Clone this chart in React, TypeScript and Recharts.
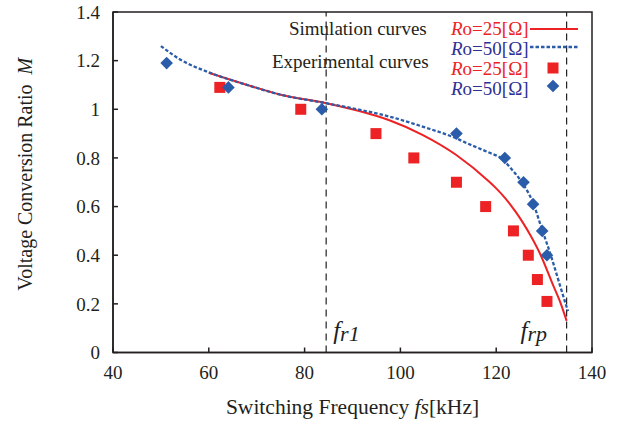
import {
  ComposedChart,
  Legend,
  Line,
  ReferenceArea,
  ReferenceLine,
  Scatter,
  XAxis,
  YAxis,
} from "recharts";

const SERIF = '"Liberation Serif", serif';
const RED = "#ED2224";
const BLUE = "#2A5CAA";
const NAVY = "#2E3192";
const INK = "#231F20";

// axis ticks
const FREQ_TICKS = [40, 60, 80, 100, 120, 140];
const M_TICKS = [0, 0.2, 0.4, 0.6, 0.8, 1, 1.2, 1.4];

// resonant frequencies marked by the dashed lines [kHz]
const FR1 = 84.5;
const FRP = 134.7;

// simulation, Ro = 25 ohm
const simR25Freq = [60, 68, 75, 84.5, 91, 97.7, 104.6, 111.6, 118.5, 120, 122, 124, 125.6, 127.2, 129.3, 131.7, 133.5, 134.7];
const simR25M = [1.15, 1.1, 1.06, 1.025, 0.995, 0.955, 0.895, 0.813, 0.703, 0.675, 0.632, 0.58, 0.533, 0.48, 0.4, 0.285, 0.2, 0.13];

// simulation, Ro = 50 ohm
const simR50Freq = [50, 54, 60, 68, 75, 84.5, 91, 97.7, 104.6, 111.6, 114.4, 118.5, 121.3, 122.7, 125.5, 127.6, 129.5, 131.4, 133.1, 134.5, 135];
const simR50M = [1.26, 1.205, 1.152, 1.1, 1.06, 1.025, 1.0, 0.97, 0.929, 0.881, 0.856, 0.822, 0.795, 0.765, 0.696, 0.62, 0.51, 0.4, 0.29, 0.2, 0.17];

// experiment, Ro = 25 ohm
const expR25Freq = [62.3, 79.2, 94.9, 102.8, 111.7, 117.8, 123.6, 126.7, 128.6, 130.6];
const expR25M = [1.09, 1.0, 0.9, 0.8, 0.7, 0.6, 0.5, 0.4, 0.3, 0.21];

// experiment, Ro = 50 ohm
const expR50Freq = [51.2, 64.1, 83.6, 111.7, 121.8, 125.7, 127.7, 129.6, 130.6];
const expR50M = [1.19, 1.09, 1.0, 0.9, 0.8, 0.7, 0.61, 0.5, 0.4];

const zip = (xs: number[], ys: number[]) => xs.map((x, i) => ({ x, y: ys[i] }));

const simR25 = zip(simR25Freq, simR25M);
const simR50 = zip(simR50Freq, simR50M);
const expR25 = zip(expR25Freq, expR25M);
const expR50 = zip(expR50Freq, expR50M);

function SquareDot(props: any) {
  const { cx, cy } = props;
  if (cx == null || cy == null) return null;
  return <rect x={cx - 5.5} y={cy - 5.5} width={11} height={11} fill={RED} />;
}

function DiamondDot(props: any) {
  const { cx, cy } = props;
  if (cx == null || cy == null) return null;
  const r = 6.3;
  return (
    <polygon
      points={`${cx},${cy - r} ${cx + r},${cy} ${cx},${cy + r} ${cx - r},${cy}`}
      fill={BLUE}
    />
  );
}

function RoText({ label, color }: { label: string; color: string }) {
  return (
    <span style={{ color }}>
      <i>R</i>o={label}[Ω]
    </span>
  );
}

// legend box sits inside the plot, top right
function LegendBox() {
  const row = (top: number, left: number): React.CSSProperties => ({
    position: "absolute",
    top,
    left,
    lineHeight: "20px",
    whiteSpace: "nowrap",
  });
  return (
    <div style={{ position: "relative", width: 320, height: 90, fontFamily: SERIF, fontSize: 19, color: INK }}>
      <div style={row(4, 19)}>Simulation curves</div>
      <div style={row(37, 2)}>Experimental curves</div>
      <div style={row(4, 181)}><RoText label="25" color={RED} /></div>
      <div style={row(24, 181)}><RoText label="50" color={NAVY} /></div>
      <div style={row(44, 181)}><RoText label="25" color={RED} /></div>
      <div style={row(64, 181)}><RoText label="50" color={NAVY} /></div>
      <svg style={{ position: "absolute", left: 260, top: 9 }} width={48} height={10}>
        <line x1={0} y1={5} x2={48} y2={5} stroke={RED} strokeWidth={2} />
      </svg>
      <svg style={{ position: "absolute", left: 260, top: 27 }} width={48} height={10}>
        <line x1={0} y1={5} x2={48} y2={5} stroke={BLUE} strokeWidth={2.3} strokeDasharray="3.5 2" />
      </svg>
      <svg style={{ position: "absolute", left: 276, top: 46 }} width={14} height={14}>
        <SquareDot cx={7} cy={7} />
      </svg>
      <svg style={{ position: "absolute", left: 276, top: 64 }} width={14} height={14}>
        <DiamondDot cx={7} cy={7} />
      </svg>
    </div>
  );
}

function YLabel(props: any) {
  const vb = props.viewBox ?? { x: 0, y: 0, width: 0, height: 0 };
  const cx = vb.x - 28;
  const cy = vb.y + vb.height / 2 - 8;
  return (
    <text
      x={cx}
      y={cy}
      transform={`rotate(-90 ${cx} ${cy})`}
      textAnchor="middle"
      dominantBaseline="central"
      fontFamily={SERIF}
      fontSize={20}
      fill={INK}
      xmlSpace="preserve"
    >
      Voltage Conversion Ratio  <tspan fontStyle="italic">M</tspan>
    </text>
  );
}

function XLabel(props: any) {
  const vb = props.viewBox ?? { x: 0, y: 0, width: 0, height: 0 };
  return (
    <text
      x={vb.x + vb.width / 2}
      y={vb.y + 61}
      textAnchor="middle"
      fontFamily={SERIF}
      fontSize={21.5}
      fill={INK}
      xmlSpace="preserve"
    >
      Switching Frequency <tspan fontStyle="italic">fs</tspan>[kHz]
    </text>
  );
}

function freqMark(sub: string, dx: number) {
  return (props: any) => {
    const vb = props.viewBox ?? { x: 0, y: 0, width: 0, height: 0 };
    return (
      <text
        x={vb.x + dx}
        y={vb.y + vb.height - 14}
        fontFamily={SERIF}
        fontStyle="italic"
        fontSize={25}
        fill={INK}
      >
        f
        <tspan fontSize={22} dy={2}>
          {sub}
        </tspan>
      </text>
    );
  };
}

export default function App() {
  const tickStyle = { fontFamily: SERIF, fontSize: 19, fill: INK };
  return (
    <div style={{ position: "absolute", left: 0, top: 0, background: "#fff" }}>
      <ComposedChart
        width={630}
        height={424}
        margin={{ top: 12, right: 38, bottom: 21.5, left: 53 }}
      >
        <XAxis
          dataKey="x"
          type="number"
          domain={[40, 140]}
          ticks={FREQ_TICKS}
          allowDataOverflow
          stroke={INK}
          strokeWidth={1.5}
          tickSize={-5}
          tickMargin={18}
          tick={tickStyle}
          height={50}
          label={<XLabel />}
        />
        <YAxis
          dataKey="y"
          type="number"
          domain={[0, 1.4]}
          ticks={M_TICKS}
          allowDataOverflow
          stroke={INK}
          strokeWidth={1.5}
          tickSize={-5}
          tickMargin={18}
          tick={tickStyle}
          width={60}
          label={<YLabel />}
        />
        <ReferenceArea
          x1={40}
          x2={140}
          y1={0}
          y2={1.4}
          fill="none"
          fillOpacity={0}
          stroke={INK}
          strokeWidth={1.5}
        />
        <ReferenceLine
          x={FR1}
          stroke="#222"
          strokeWidth={1.2}
          strokeDasharray="7 5"
          label={freqMark("r1", 7)}
        />
        <ReferenceLine
          x={FRP}
          stroke="#222"
          strokeWidth={1.2}
          strokeDasharray="7 5"
          label={freqMark("rp", -46)}
        />
        <Line
          data={simR25}
          dataKey="y"
          type="monotone"
          stroke={RED}
          strokeWidth={2}
          dot={false}
          activeDot={false}
          isAnimationActive={false}
        />
        <Line
          data={simR50}
          dataKey="y"
          type="monotone"
          stroke={BLUE}
          strokeWidth={2.3}
          strokeDasharray="3.5 2"
          dot={false}
          activeDot={false}
          isAnimationActive={false}
        />
        <Scatter data={expR25} dataKey="y" shape={<SquareDot />} isAnimationActive={false} />
        <Scatter data={expR50} dataKey="y" shape={<DiamondDot />} isAnimationActive={false} />
        <Legend
          layout="horizontal"
          verticalAlign="middle"
          align="center"
          wrapperStyle={{ position: "absolute", left: 270, top: 15, width: 320, height: 90 }}
          content={() => <LegendBox />}
        />
      </ComposedChart>
    </div>
  );
}
